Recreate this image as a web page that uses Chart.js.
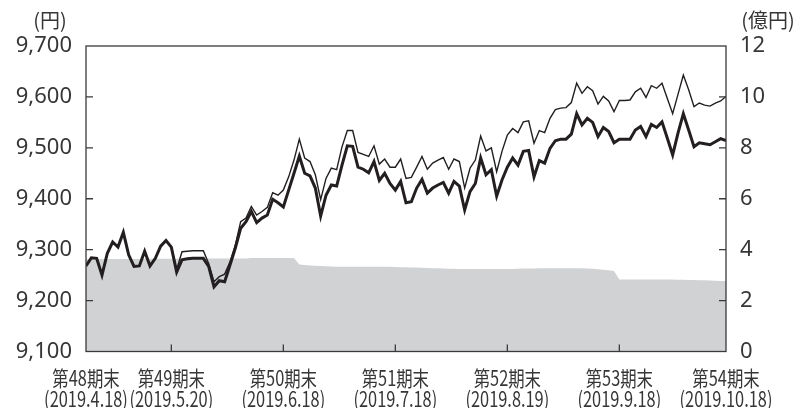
<!DOCTYPE html>
<html lang="ja">
<head>
    <meta charset="UTF-8">
    <title>基準価額と純資産の推移</title>
    <script src="https://cdn.jsdelivr.net/npm/chart.js"></script>
    <style>
        body { margin: 0; background: white; }
        .chart-wrapper { width: 802px; height: 408px; }
    </style>
</head>
<body>
    <div class="chart-wrapper">
        <canvas id="navChart"></canvas>
    </div>

    <script>
        // 基準価額 (円) - thick line
        const nav = [
            9268, 9284, 9283, 9250, 9293, 9315, 9305, 9334, 9290, 9267,
            9268, 9297, 9268, 9283, 9307, 9318, 9305, 9256, 9280, 9282,
            9283, 9283, 9283, 9267, 9227, 9239, 9237, 9270, 9303, 9342,
            9355, 9375, 9353, 9362, 9368, 9399, 9392, 9384, 9417, 9450,
            9484, 9450, 9445, 9421, 9366, 9407, 9427, 9425, 9466, 9504,
            9503, 9462, 9458, 9451, 9473, 9436, 9450, 9430, 9417, 9434,
            9392, 9394, 9421, 9438, 9411, 9421, 9427, 9432, 9411, 9434,
            9425, 9378, 9414, 9430, 9480, 9447, 9457, 9405, 9437, 9462,
            9480, 9466, 9493, 9495, 9443, 9475, 9470, 9499, 9514, 9517,
            9517, 9527, 9567, 9545, 9558, 9550, 9522, 9540, 9532, 9510,
            9517, 9517, 9517, 9535, 9542, 9522, 9546, 9540, 9551, 9519,
            9486, 9529, 9567, 9535, 9502, 9510, 9508, 9506, 9512, 9518,
            9514
        ];

        // 分配金再投資基準価額 (円) - thin line
        const reinvestedNav = [
            9268, 9284, 9283, 9250, 9293, 9315, 9305, 9334, 9290, 9267,
            9268, 9297, 9268, 9283, 9307, 9318, 9305, 9261, 9296, 9297,
            9298, 9298, 9298, 9273, 9237, 9247, 9252, 9276, 9309, 9355,
            9362, 9385, 9368, 9375, 9383, 9412, 9407, 9417, 9443, 9476,
            9517, 9480, 9473, 9447, 9398, 9440, 9460, 9457, 9502, 9534,
            9534, 9491, 9487, 9483, 9504, 9468, 9478, 9462, 9462, 9478,
            9440, 9442, 9462, 9483, 9458, 9470, 9476, 9481, 9458, 9478,
            9473, 9421, 9460, 9476, 9523, 9494, 9500, 9453, 9493, 9525,
            9538, 9530, 9551, 9553, 9509, 9534, 9530, 9558, 9575, 9578,
            9579, 9589, 9627, 9607, 9620, 9612, 9586, 9601, 9592, 9571,
            9593, 9593, 9594, 9610, 9617, 9599, 9622, 9617, 9627, 9597,
            9567, 9605, 9643, 9614, 9581, 9588, 9584, 9582, 9588, 9592,
            9601
        ];

        // 純資産総額 (億円) - grey area
        const netAssets = [
            3.63, 3.63, 3.63, 3.63, 3.63, 3.63, 3.63, 3.63, 3.63, 3.63,
            3.63, 3.64, 3.64, 3.64, 3.64, 3.64, 3.64, 3.64, 3.64, 3.64,
            3.64, 3.65, 3.65, 3.65, 3.65, 3.65, 3.65, 3.65, 3.65, 3.65,
            3.65, 3.67, 3.67, 3.67, 3.67, 3.67, 3.67, 3.67, 3.67, 3.67,
            3.42, 3.40, 3.38, 3.37, 3.36, 3.35, 3.34, 3.33, 3.33, 3.33,
            3.33, 3.33, 3.33, 3.33, 3.33, 3.33, 3.33, 3.33, 3.32, 3.31,
            3.31, 3.30, 3.30, 3.29, 3.28, 3.27, 3.27, 3.26, 3.25, 3.25,
            3.24, 3.24, 3.24, 3.24, 3.24, 3.24, 3.24, 3.24, 3.24, 3.24,
            3.24, 3.25, 3.26, 3.26, 3.26, 3.27, 3.27, 3.27, 3.27, 3.27,
            3.27, 3.27, 3.27, 3.27, 3.26, 3.25, 3.23, 3.21, 3.19, 3.16,
            2.83, 2.83, 2.83, 2.83, 2.83, 2.83, 2.83, 2.83, 2.83, 2.83,
            2.83, 2.82, 2.82, 2.81, 2.81, 2.80, 2.80, 2.79, 2.78, 2.77,
            2.77
        ];

        // period ends: position in business days, name, date
        const periodIndex = [0, 16, 37, 58, 79, 100, 120];
        const periodNames = ['第48期末', '第49期末', '第50期末', '第51期末', '第52期末', '第53期末', '第54期末'];
        const periodDates = ['(2019.4.18)', '(2019.5.20)', '(2019.6.18)', '(2019.7.18)', '(2019.8.19)', '(2019.9.18)', '(2019.10.18)'];

        const days = nav.map((_, i) => i);
        const inkColor = '#231f20';
        const textColor = '#363636';

        // frame, inward tick marks, period labels and unit titles
        const framePlugin = {
            id: 'frame',
            afterDatasetsDraw(chart) {
                const { ctx, chartArea: a, scales } = chart;
                ctx.save();
                ctx.strokeStyle = '#3a3a3a';
                ctx.lineWidth = 1.3;
                ctx.strokeRect(a.left, a.top, a.right - a.left, a.bottom - a.top);

                ctx.beginPath();
                scales.y.ticks.slice(1, -1).forEach(t => {
                    const y = scales.y.getPixelForValue(t.value);
                    ctx.moveTo(a.left, y);
                    ctx.lineTo(a.left + 7, y);
                });
                scales.y1.ticks.slice(1, -1).forEach(t => {
                    const y = scales.y1.getPixelForValue(t.value);
                    ctx.moveTo(a.right - 7, y);
                    ctx.lineTo(a.right, y);
                });
                periodIndex.slice(1, -1).forEach(i => {
                    const x = scales.x.getPixelForValue(i);
                    ctx.moveTo(x, a.bottom);
                    ctx.lineTo(x, a.bottom - 7);
                });
                ctx.stroke();

                // condensed two-line period labels
                ctx.fillStyle = textColor;
                ctx.textAlign = 'center';
                ctx.textBaseline = 'middle';
                ctx.font = "21px 'Noto Sans CJK JP', sans-serif";
                periodIndex.forEach((p, k) => {
                    const x = scales.x.getPixelForValue(p);
                    ctx.save();
                    ctx.translate(x, 0);
                    ctx.scale(0.78, 1);
                    ctx.fillText(periodNames[k], 0, 378);
                    ctx.fillText(periodDates[k], 0, 399);
                    ctx.restore();
                });

                ctx.font = "20px 'Noto Sans CJK JP', sans-serif";
                ctx.fillText('(円)', 50, 20);
                ctx.fillText('(億円)', 768, 20);
                ctx.restore();
            }
        };

        function createNavChart() {
            const ctx = document.getElementById('navChart').getContext('2d');
            new Chart(ctx, {
                type: 'line',
                data: {
                    labels: days,
                    datasets: [
                        {
                            label: '分配金再投資基準価額',
                            data: reinvestedNav,
                            yAxisID: 'y',
                            borderColor: inkColor,
                            borderWidth: 1.4,
                            pointRadius: 0,
                            fill: false
                        },
                        {
                            label: '基準価額',
                            data: nav,
                            yAxisID: 'y',
                            borderColor: inkColor,
                            borderWidth: 3,
                            pointRadius: 0,
                            fill: false
                        },
                        {
                            label: '純資産総額',
                            data: netAssets,
                            yAxisID: 'y1',
                            borderColor: 'rgba(0, 0, 0, 0)',
                            borderWidth: 0,
                            backgroundColor: '#d1d2d4',
                            pointRadius: 0,
                            fill: 'origin'
                        }
                    ]
                },
                options: {
                    responsive: true,
                    maintainAspectRatio: false,
                    animation: false,
                    layout: { padding: { top: 46, bottom: 56.5, left: 0, right: 0 } },
                    plugins: {
                        legend: { display: false },
                        tooltip: { enabled: false }
                    },
                    scales: {
                        x: { type: 'linear', display: false, min: 0, max: 120 },
                        y: {
                            position: 'left',
                            min: 9100,
                            max: 9700,
                            grid: { display: false, drawTicks: false },
                            border: { display: false },
                            ticks: {
                                stepSize: 100,
                                padding: 14,
                                color: textColor,
                                font: { family: "'Noto Sans', sans-serif", size: 22 },
                                callback: v => v.toLocaleString('en-US')
                            },
                            afterFit: s => { s.width = 86; }
                        },
                        y1: {
                            position: 'right',
                            min: 0,
                            max: 12,
                            grid: { display: false, drawTicks: false },
                            border: { display: false },
                            ticks: {
                                stepSize: 2,
                                padding: 14,
                                color: textColor,
                                font: { family: "'Noto Sans', sans-serif", size: 22 }
                            },
                            afterFit: s => { s.width = 76; }
                        }
                    }
                },
                plugins: [framePlugin]
            });
        }

        window.onload = createNavChart;
    </script>
</body>
</html>
